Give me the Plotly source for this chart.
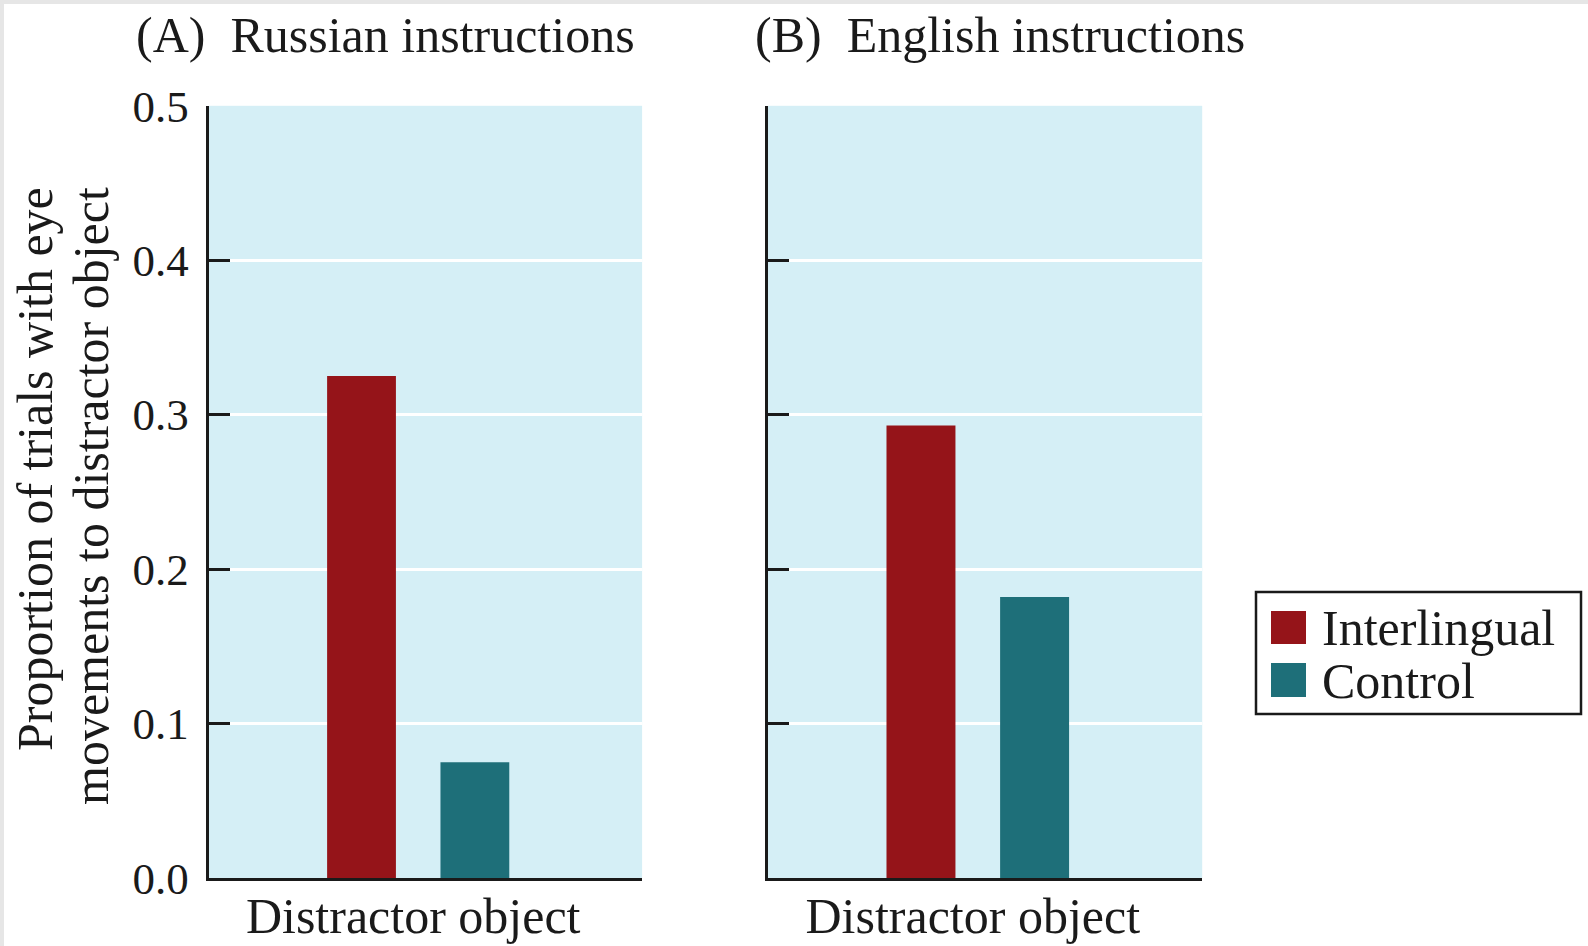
import plotly.graph_objects as go

# ---- data ----
categories = ["Distractor object"]
series_names = ["Interlingual", "Control"]
interlingual = [0.325, 0.293]   # panel A, panel B
control = [0.075, 0.182]        # panel A, panel B
panel_titles = ["(A)\u00a0 Russian instructions", "(B)\u00a0 English instructions"]
y_ticks = [0.0, 0.1, 0.2, 0.3, 0.4, 0.5]
y_title_lines = ["Proportion of trials with eye", "movements to distractor object"]

# ---- styles ----
W, H = 1588, 946
RED = "#951419"
TEAL = "#1E6F79"
BG = "#D5EFF6"
INK = "#1a1a1a"
FONT = "Liberation Serif"
FS = 50
FS_TICK = 45

def px(x):
    return x / W

def py(y):
    return 1 - y / H

fig = go.Figure()
axes = [("x", "y"), ("x2", "y2")]
for i, (xa, ya) in enumerate(axes):
    fig.add_trace(go.Bar(x=categories, y=[interlingual[i]], name=series_names[0],
                         marker=dict(color=RED, line=dict(width=0)),
                         xaxis=xa, yaxis=ya, showlegend=False))
    fig.add_trace(go.Bar(x=categories, y=[control[i]], name=series_names[1],
                         marker=dict(color=TEAL, line=dict(width=0)),
                         xaxis=xa, yaxis=ya, showlegend=False))

x_domains = [[px(208.6), px(642.1)], [px(767.7), px(1202.2)]]
y_domain = [py(878.1), py(105.8)]

common_x = dict(range=[-0.4835, 0.5165], showline=True, linecolor=INK, linewidth=2.5,
                ticks="", showgrid=False, zeroline=False, automargin=False,
                tickfont=dict(family=FONT, size=FS, color=INK),
                ticklabelstandoff=-8, ticklabelshift=-5)
common_y = dict(range=[0, 0.5], tickvals=y_ticks, tickformat=".1f", domain=y_domain,
                ticks="inside", ticklen=22, tickwidth=2.5, tickcolor=INK,
                showline=True, linecolor=INK, linewidth=2.5, automargin=False,
                showgrid=True, gridcolor="white", gridwidth=2.5, zeroline=False,
                tickfont=dict(family=FONT, size=FS_TICK, color=INK), ticklabelstandoff=8)

fig.update_layout(
    width=W, height=H, autosize=False,
    margin=dict(l=0, r=0, t=0, b=0, pad=0),
    paper_bgcolor="white", plot_bgcolor=BG,
    barmode="group", bargap=0.477, bargroupgap=0.393,
    font=dict(family=FONT, size=FS, color=INK),
    xaxis=dict(domain=x_domains[0], anchor="y", **common_x),
    xaxis2=dict(domain=x_domains[1], anchor="y2", **common_x),
    yaxis=dict(anchor="x", showticklabels=True, **common_y),
    yaxis2=dict(anchor="x2", showticklabels=False, **common_y),
)

annotations = [
    dict(text=panel_titles[0], x=px(134), y=py(35), xanchor="left", yanchor="middle"),
    dict(text=panel_titles[1], x=px(753), y=py(35), xanchor="left", yanchor="middle"),
    dict(text=y_title_lines[0], x=px(35), y=py(185), xanchor="center", yanchor="top",
         textangle=-90),
    dict(text=y_title_lines[1], x=px(91), y=py(185), xanchor="center", yanchor="top",
         textangle=-90),
    dict(text=series_names[0], x=px(1320), y=py(628), xanchor="left", yanchor="middle"),
    dict(text=series_names[1], x=px(1320), y=py(681), xanchor="left", yanchor="middle"),
]
for a in annotations:
    a.update(xref="paper", yref="paper", showarrow=False,
             font=dict(family=FONT, size=FS, color=INK))
fig.update_layout(annotations=annotations)

shapes = [
    # legend box
    dict(type="rect", x0=px(1256), x1=px(1581), y0=py(714), y1=py(592),
         line=dict(color=INK, width=2.5), fillcolor="white", layer="above"),
    dict(type="rect", x0=px(1271), x1=px(1306), y0=py(644), y1=py(611),
         line=dict(width=0), fillcolor=RED, layer="above"),
    dict(type="rect", x0=px(1271), x1=px(1306), y0=py(697), y1=py(663),
         line=dict(width=0), fillcolor=TEAL, layer="above"),
    # thin grey page edges
    dict(type="rect", x0=0, x1=px(4), y0=0, y1=1, line=dict(width=0),
         fillcolor="#e6e6e6", layer="below"),
    dict(type="rect", x0=0, x1=1, y0=py(4), y1=1, line=dict(width=0),
         fillcolor="#e6e6e6", layer="below"),
]
for s in shapes:
    s.update(xref="paper", yref="paper")
fig.update_layout(shapes=shapes)

post = (
    "document.documentElement.style.margin='0';"
    "document.body.style.margin='0';"
    "document.body.style.overflow='hidden';"
    "var gd=document.getElementById('{plot_id}');"
    "gd.style.position='fixed';gd.style.left='0px';gd.style.top='0px';gd.style.zIndex='1000';"
)

fig.write_html("out.html", post_script=post, config={"displayModeBar": False})
